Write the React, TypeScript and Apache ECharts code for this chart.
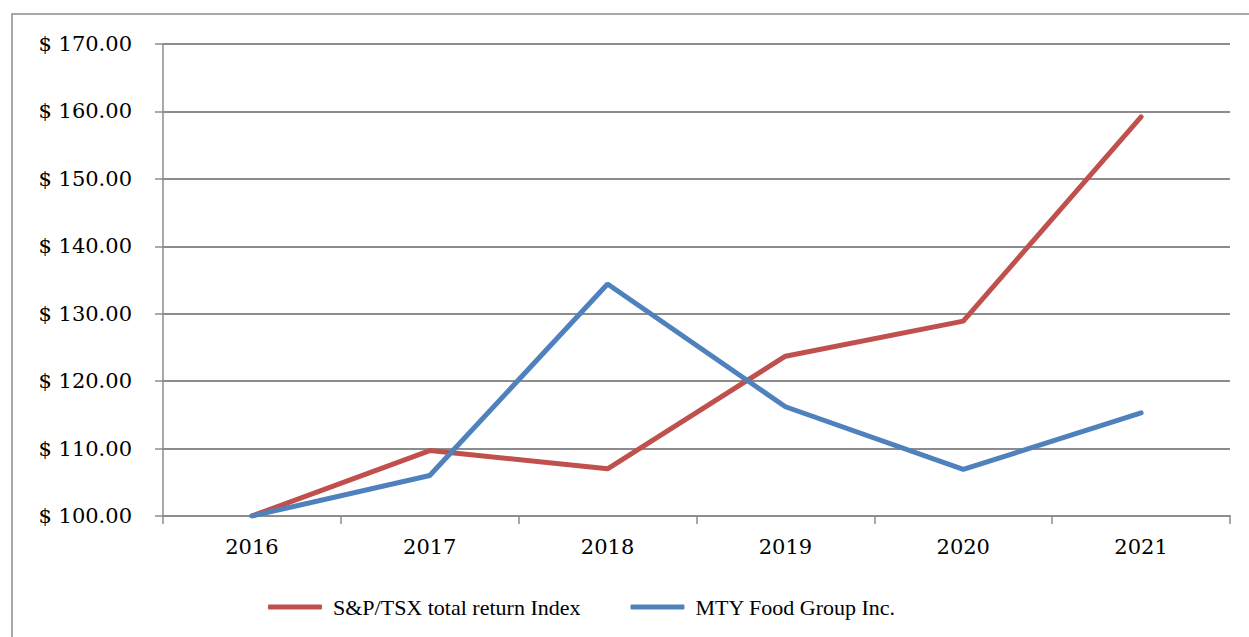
import React, { useEffect, useRef } from "react";
import * as echarts from "echarts";

const years = ["2016", "2017", "2018", "2019", "2020", "2021"];
const spTsx = [100, 109.7, 107.0, 123.7, 128.9, 159.2];
const mty = [100, 106.0, 134.4, 116.2, 106.9, 115.3];
const seriesNames = ["S&P/TSX total return Index", "MTY Food Group Inc."];

export default function App() {
  const ref = useRef<HTMLDivElement>(null);
  useEffect(() => {
    if (!ref.current) return;
    const chart = echarts.init(ref.current, undefined, { renderer: "svg" });
    const gray = "#8c8c8c";
    chart.setOption({
      animation: false,
      backgroundColor: "#ffffff",
      graphic: [
        {
          type: "rect",
          shape: { x: 12, y: 14, width: 1260, height: 660 },
          style: { fill: "none", stroke: gray, lineWidth: 1.5 },
          silent: true,
        },
      ],
      grid: { left: 163, right: 19, top: 44, bottom: 121 },
      legend: {
        data: seriesNames,
        top: 591,
        left: 263,
        icon: "roundRect",
        itemWidth: 54,
        itemHeight: 5,
        itemGap: 50,
        textStyle: {
          fontFamily: "Liberation Serif",
          fontSize: 22,
          color: "#000",
          padding: [0, 0, 0, 6],
        },
      },
      xAxis: {
        type: "category",
        data: years,
        boundaryGap: true,
        axisLine: { lineStyle: { color: gray, width: 2 } },
        axisTick: { show: true, length: 8, lineStyle: { color: gray, width: 1.5 } },
        axisLabel: {
          margin: 20,
          fontFamily: "DejaVu Serif",
          fontSize: 21,
          color: "#000",
        },
        splitLine: { show: false },
      },
      yAxis: {
        type: "value",
        min: 100,
        max: 170,
        interval: 10,
        axisLine: { show: true, lineStyle: { color: gray, width: 1.5 } },
        axisTick: { show: true, length: 8, lineStyle: { color: gray, width: 1.5 } },
        axisLabel: {
          margin: 31,
          fontFamily: "DejaVu Serif",
          fontSize: 21,
          color: "#000",
          formatter: (v: number) => "$ " + v.toFixed(2),
        },
        splitLine: { show: true, lineStyle: { color: gray, width: 2 } },
      },
      series: [
        {
          name: seriesNames[0],
          type: "line",
          data: spTsx,
          symbol: "none",
          color: "#C0504D",
          lineStyle: { color: "#C0504D", width: 5, cap: "round" },
        },
        {
          name: seriesNames[1],
          type: "line",
          data: mty,
          symbol: "none",
          color: "#4F81BD",
          lineStyle: { color: "#4F81BD", width: 5, cap: "round" },
        },
      ],
    });
    return () => chart.dispose();
  }, []);
  return (
    <div
      ref={ref}
      style={{ position: "fixed", left: 0, top: 0, width: 1249, height: 637 }}
    />
  );
}
